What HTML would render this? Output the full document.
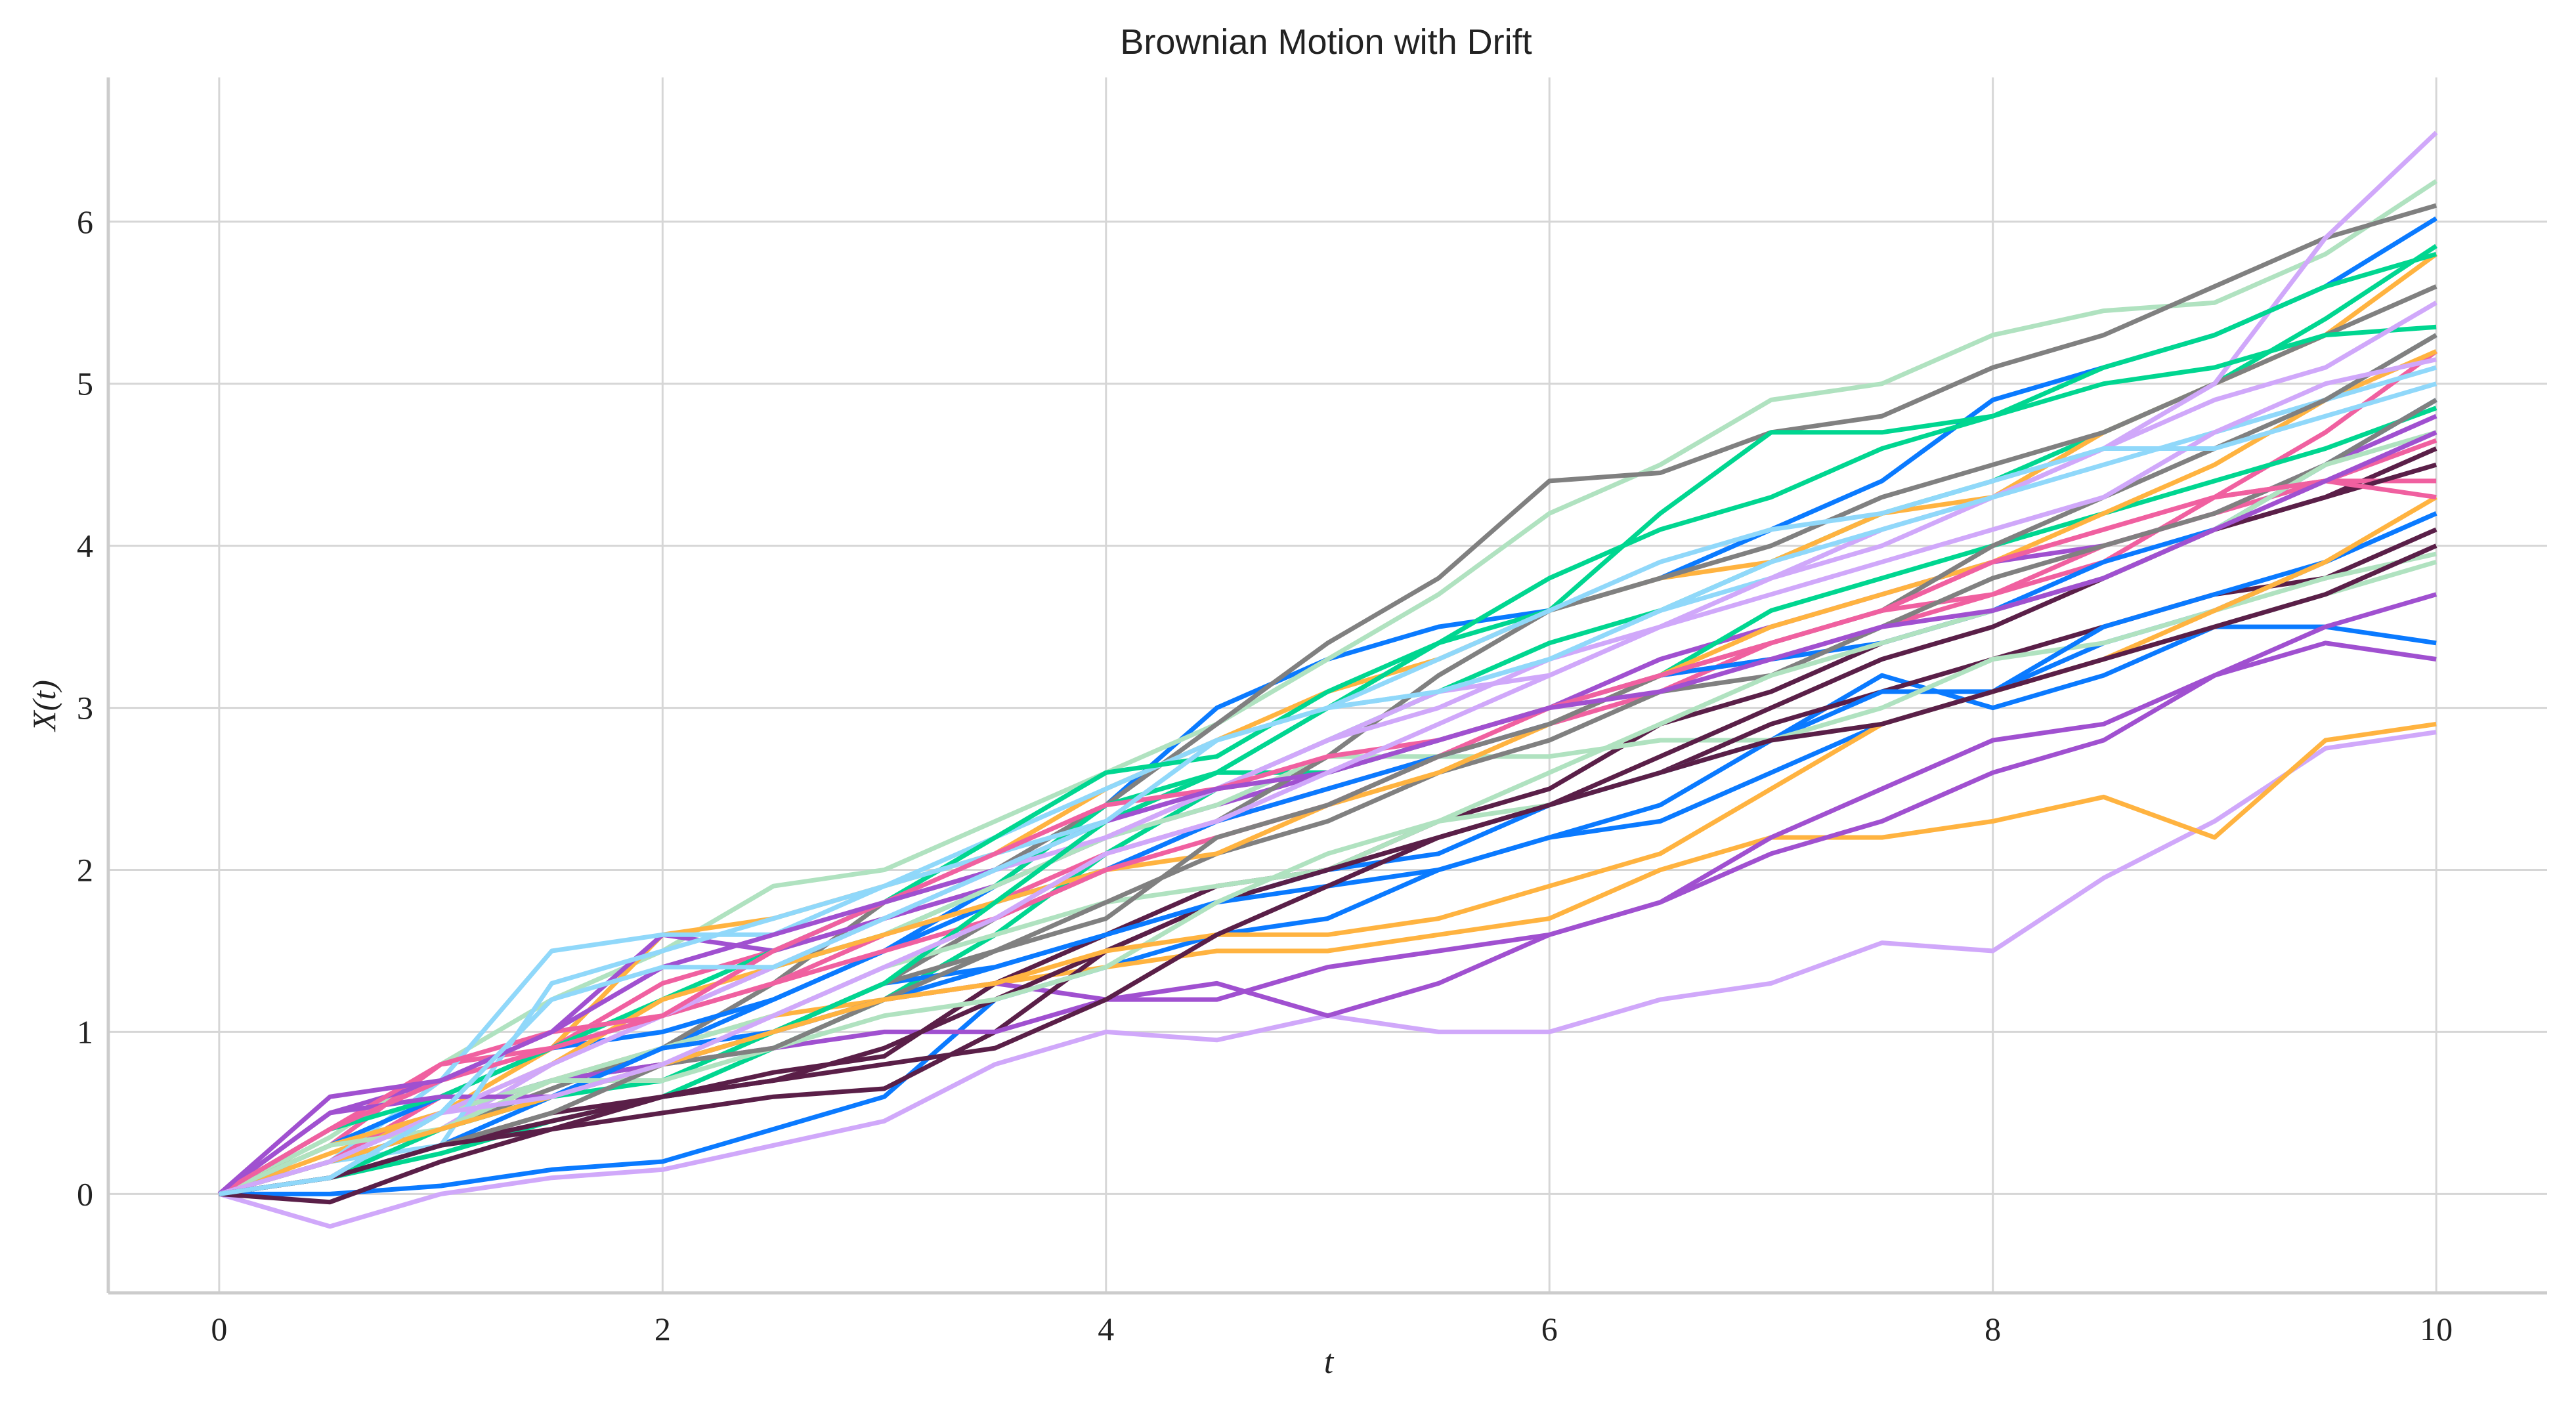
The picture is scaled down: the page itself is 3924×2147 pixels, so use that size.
<!DOCTYPE html>
<html><head><meta charset="utf-8"><style>
html,body{margin:0;padding:0;background:#fff;width:3924px;height:2147px;overflow:hidden}
svg{display:block}
</style></head><body>
<svg id="chart" width="3924" height="2147" xmlns="http://www.w3.org/2000/svg">
<rect width="3924" height="2147" fill="#fff"/>
<g id="grid"></g>
<g id="lines"></g>
<g id="axes"></g>
<text x="2020" y="82" text-anchor="middle" font-family="Liberation Sans, sans-serif" font-size="54" fill="#222">Brownian Motion with Drift</text>
<text x="2024" y="2092" text-anchor="middle" font-family="Liberation Serif, serif" font-style="italic" font-size="52" fill="#222">t</text>
<text transform="translate(84,1075) rotate(-90)" text-anchor="middle" font-family="Liberation Serif, serif" font-style="italic" font-size="50" fill="#222">X(t)</text>
</svg>
<script>
const times = [0,0.5,1,1.5,2,2.5,3,3.5,4,4.5,5,5.5,6,6.5,7,7.5,8,8.5,9,9.5,10];
const xTicks = [0,2,4,6,8,10];
const yTicks = [0,1,2,3,4,5,6];
const palette = ["#0a7aff","#00d690","#b0e2c0","#808080","#ffb340","#f060a0","#a050d0","#d0a8fa","#5a1f48","#90d8fa"];
const s0 = [0,0.2,0.5,0.7,0.9,1.2,1.5,1.9,2.4,3.0,3.3,3.5,3.6,3.8,4.1,4.4,4.9,5.1,5.3,5.6,6.02];
const s1 = [0,0.1,0.25,0.45,0.6,0.9,1.2,1.6,2.1,2.5,2.8,3.1,3.4,3.6,3.9,4.2,4.4,4.7,5.0,5.4,5.85];
const s2 = [0,0.35,0.8,1.2,1.5,1.9,2.0,2.3,2.6,2.9,3.3,3.7,4.2,4.5,4.9,5.0,5.3,5.45,5.5,5.8,6.25];
const s3 = [0,0.2,0.4,0.65,0.9,1.3,1.8,2.0,2.4,2.9,3.4,3.8,4.4,4.45,4.7,4.8,5.1,5.3,5.6,5.9,6.1];
const s4 = [0,0.25,0.5,0.9,1.6,1.7,1.9,2.1,2.5,2.8,3.1,3.3,3.6,3.8,3.9,4.2,4.3,4.7,5.0,5.3,5.8];
const s5 = [0,0.3,0.8,0.9,1.3,1.5,1.7,1.9,2.2,2.5,2.6,2.8,3.0,3.2,3.3,3.5,3.7,3.9,4.3,4.7,5.2];
const s6 = [0,0.5,0.7,1.0,1.6,1.5,1.7,1.9,2.2,2.4,2.6,2.8,3.0,3.3,3.5,3.7,3.9,4.0,4.2,4.5,4.8];
const s7 = [0,-0.2,0.0,0.1,0.15,0.3,0.45,0.8,1.0,0.95,1.1,1.0,1.0,1.2,1.3,1.55,1.5,1.95,2.3,2.75,2.85];
const s8 = [0,0.1,0.3,0.45,0.6,0.75,0.85,1.3,1.6,1.9,2.0,2.3,2.5,2.9,3.1,3.4,3.6,3.8,4.1,4.3,4.6];
const s9 = [0,0.2,0.7,1.5,1.6,1.6,1.9,2.2,2.5,2.8,3.0,3.1,3.3,3.6,3.8,4.1,4.3,4.5,4.7,4.9,5.3];
const s10 = [0,0.0,0.05,0.15,0.2,0.4,0.6,1.2,1.4,1.6,1.7,2.0,2.2,2.4,2.8,3.2,3.0,3.2,3.5,3.5,3.4];
const s11 = [0,0.3,0.6,0.9,1.1,1.4,1.6,1.9,2.4,2.6,2.6,2.8,3.0,3.2,3.6,3.8,4.0,4.2,4.4,4.6,4.85];
const s12 = [0,0.4,0.7,1.0,1.1,1.3,1.6,1.9,2.2,2.4,2.7,2.7,2.7,2.8,2.8,2.9,3.1,3.3,3.5,3.7,3.9];
const s13 = [0,0.1,0.5,0.7,0.8,1.0,1.3,1.7,2.0,2.3,2.7,3.2,3.6,3.8,4.0,4.3,4.5,4.7,5.0,5.3,5.6];
const s14 = [0,0.2,0.4,0.7,0.9,1.1,1.2,1.3,1.4,1.5,1.5,1.6,1.7,2.0,2.2,2.2,2.3,2.45,2.2,2.8,2.9];
const s15 = [0,0.2,0.6,0.9,1.1,1.3,1.6,1.8,2.1,2.3,2.5,2.7,2.9,3.1,3.4,3.6,3.7,4.0,4.2,4.4,4.65];
const s16 = [0,0.3,0.5,0.7,0.8,1.0,1.2,1.3,1.2,1.3,1.1,1.3,1.6,1.8,2.2,2.5,2.8,2.9,3.2,3.4,3.3];
const s17 = [0,0.1,0.4,0.8,1.1,1.4,1.7,2.0,2.2,2.5,2.8,3.1,3.2,3.5,3.8,4.0,4.3,4.6,5.0,5.9,6.55];
const s18 = [0,-0.05,0.2,0.4,0.5,0.6,0.65,1.0,1.5,1.8,2.0,2.2,2.4,2.6,2.9,3.1,3.3,3.5,3.7,3.8,4.1];
const s19 = [0,0.3,0.6,0.9,1.0,1.2,1.5,1.8,2.0,2.3,2.5,2.7,2.9,3.2,3.3,3.4,3.6,3.9,4.1,4.5,4.9];
const s20 = [0,0.1,0.3,0.6,0.9,1.0,1.3,1.4,1.6,1.8,2.0,2.1,2.4,2.6,2.8,3.1,3.1,3.4,3.6,3.9,4.2];
const s21 = [0,0.4,0.6,0.9,1.2,1.5,1.8,2.2,2.6,2.7,3.1,3.4,3.8,4.1,4.3,4.6,4.8,5.0,5.1,5.3,5.35];
const s22 = [0,0.3,0.5,0.7,0.9,1.1,1.4,1.6,1.8,1.9,2.0,2.3,2.4,2.6,2.8,3.0,3.3,3.4,3.6,3.8,3.95];
const s23 = [0,0.2,0.4,0.6,0.8,1.0,1.3,1.5,1.8,2.1,2.3,2.6,2.8,3.1,3.2,3.5,3.8,4.0,4.2,4.5,4.9];
const s24 = [0,0.3,0.5,0.8,1.2,1.4,1.6,1.8,2.0,2.1,2.4,2.6,2.9,3.2,3.5,3.7,3.9,4.2,4.5,4.9,5.2];
const s25 = [0,0.4,0.8,1.0,1.1,1.3,1.5,1.7,2.0,2.2,2.4,2.7,3.0,3.2,3.4,3.6,3.9,4.1,4.3,4.4,4.4];
const s26 = [0,0.5,0.6,0.6,0.8,0.9,1.0,1.0,1.2,1.2,1.4,1.5,1.6,1.8,2.1,2.3,2.6,2.8,3.2,3.5,3.7];
const s27 = [0,0.2,0.5,0.8,1.1,1.4,1.7,2.0,2.3,2.5,2.8,3.0,3.3,3.5,3.8,4.1,4.3,4.6,4.9,5.1,5.5];
const s28 = [0,0.1,0.3,0.5,0.6,0.7,0.9,1.2,1.5,1.8,2.0,2.2,2.4,2.7,3.0,3.3,3.5,3.8,4.1,4.3,4.5];
const s29 = [0,0.2,0.3,1.3,1.5,1.7,1.9,2.1,2.3,2.6,3.0,3.1,3.3,3.6,3.9,4.1,4.3,4.5,4.7,4.9,5.1];
const s30 = [0,0.2,0.4,0.6,0.9,1.0,1.2,1.4,1.6,1.8,1.9,2.0,2.2,2.3,2.6,2.9,3.1,3.5,3.7,3.9,4.2];
const s31 = [0,0.1,0.4,0.6,0.7,1.0,1.3,1.8,2.3,2.6,3.0,3.4,3.6,4.2,4.7,4.7,4.8,5.1,5.3,5.6,5.8];
const s32 = [0,0.3,0.4,0.7,0.7,0.9,1.1,1.2,1.4,1.8,2.1,2.3,2.6,2.9,3.2,3.4,3.6,3.8,4.1,4.5,4.7];
const s33 = [0,0.1,0.3,0.5,0.8,0.9,1.2,1.5,1.7,2.2,2.4,2.7,2.9,3.2,3.4,3.6,4.0,4.3,4.6,4.9,5.3];
const s34 = [0,0.2,0.4,0.6,0.8,1.0,1.2,1.3,1.5,1.6,1.6,1.7,1.9,2.1,2.5,2.9,3.1,3.3,3.6,3.9,4.3];
const s35 = [0,0.4,0.7,0.9,1.1,1.5,1.8,2.1,2.4,2.5,2.7,2.8,3.0,3.2,3.4,3.6,3.9,4.1,4.3,4.4,4.3];
const s36 = [0,0.6,0.7,1.0,1.4,1.6,1.8,2.0,2.3,2.5,2.6,2.8,3.0,3.1,3.3,3.5,3.6,3.8,4.1,4.4,4.7];
const s37 = [0,0.2,0.5,0.6,0.8,1.1,1.4,1.7,2.1,2.3,2.6,2.9,3.2,3.5,3.7,3.9,4.1,4.3,4.7,5.0,5.15];
const s38 = [0,0.1,0.3,0.4,0.6,0.7,0.8,0.9,1.2,1.6,1.9,2.2,2.4,2.6,2.8,2.9,3.1,3.3,3.5,3.7,4.0];
const s39 = [0,0.1,0.5,1.2,1.4,1.4,1.7,2.0,2.3,2.8,3.0,3.3,3.6,3.9,4.1,4.2,4.4,4.6,4.6,4.8,5.0];
const series = [s0,s1,s2,s3,s4,s5,s6,s7,s8,s9,s10,s11,s12,s13,s14,s15,s16,s17,s18,s19,s20,s21,s22,s23,s24,s25,s26,s27,s28,s29,s30,s31,s32,s33,s34,s35,s36,s37,s38,s39];
const colorIdx = [0,1,2,3,4,5,6,7,8,9, 0,1,2,3,4,5,6,7,8,0, 0,1,2,3,4,5,6,7,8,9, 0,1,2,3,4,5,6,7,8,9];

const NS="http://www.w3.org/2000/svg";
const L=165,R=3880,T=118,B=1970;
const xMin=-0.5,xMax=10.5,yMin=-0.61,yMax=6.89;
const sx=v=>L+(v-xMin)/(xMax-xMin)*(R-L);
const sy=v=>B-(v-yMin)/(yMax-yMin)*(B-T);
const grid=document.getElementById('grid'),lines=document.getElementById('lines'),axes=document.getElementById('axes');
function mk(tag,attrs,parent){const e=document.createElementNS(NS,tag);for(const k in attrs)e.setAttribute(k,attrs[k]);parent.appendChild(e);return e;}
xTicks.forEach(t=>{
  const g=mk('line',{x1:sx(t),x2:sx(t),y1:T,y2:B,stroke:'#d6d6d6','stroke-width':3},grid);
  
  
  const tx=mk('text',{x:sx(t),y:2042,'text-anchor':'middle','font-family':'Liberation Serif, serif','font-size':50,fill:'#222'},axes);
  tx.textContent=t;
  
  
});
yTicks.forEach(v=>{
  const g=mk('line',{x1:L,x2:R,y1:sy(v),y2:sy(v),stroke:'#d6d6d6','stroke-width':3},grid);
  
  
  const tx=mk('text',{x:142,y:sy(v)+17,'text-anchor':'end','font-family':'Liberation Serif, serif','font-size':50,fill:'#222'},axes);
  tx.textContent=v;
  
  
});
const sp1=mk('line',{x1:L,x2:L,y1:T,y2:B,stroke:'#cccccc','stroke-width':5},axes);


const sp2=mk('line',{x1:L,x2:R,y1:B,y2:B,stroke:'#cccccc','stroke-width':5},axes);


series.forEach((s,i)=>{
  const pts=s.map((v,j)=>sx(times[j]).toFixed(1)+','+sy(v).toFixed(1)).join(' ');
  const p=mk('polyline',{points:pts,fill:'none',stroke:palette[colorIdx[i]],'stroke-width':7,'stroke-linejoin':'round'},lines);
  
  
});
</script>
</body></html>
